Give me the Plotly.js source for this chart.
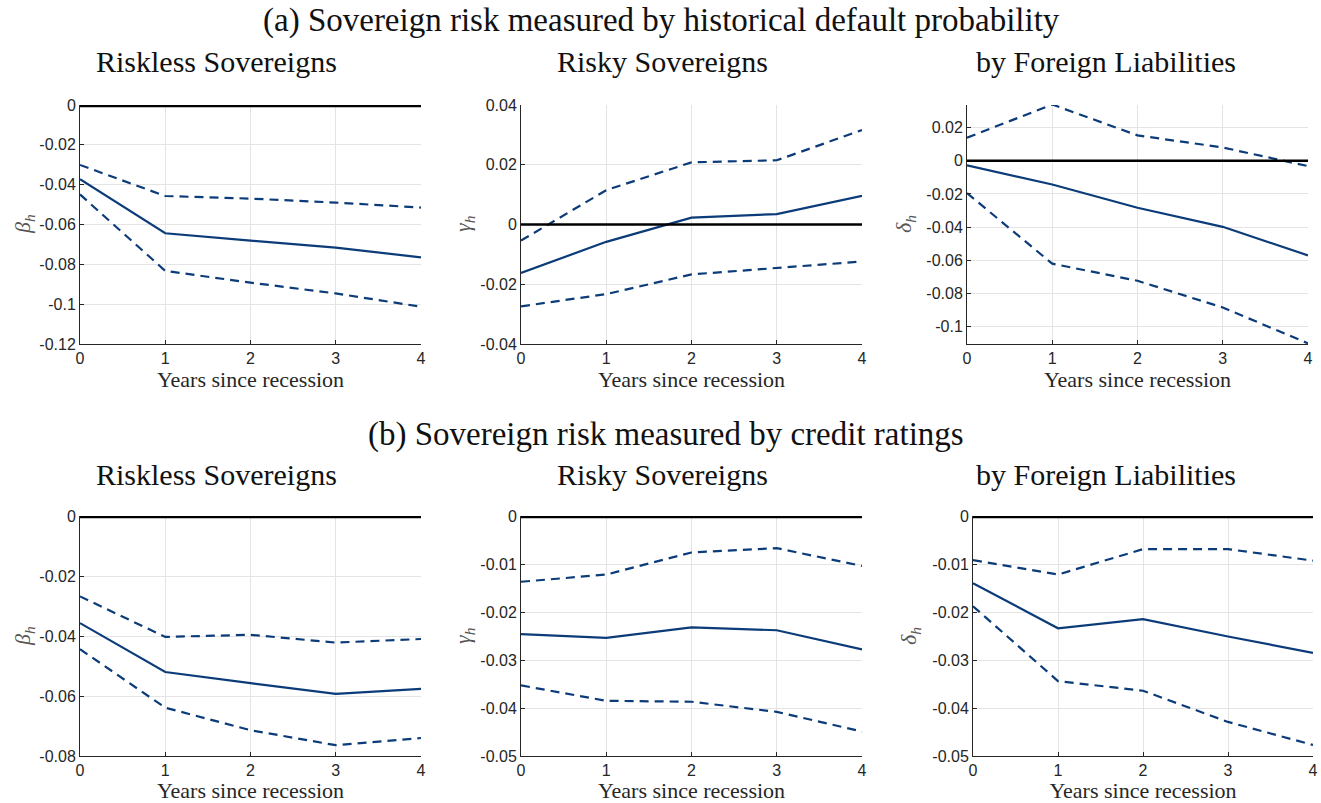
<!DOCTYPE html>
<html>
<head>
<meta charset="utf-8">
<script src="https://cdn.plot.ly/plotly-3.0.1.min.js"></script>
<style>html,body{margin:0;padding:0;background:#fff;}#chart{width:1321px;height:803px;}</style>
</head>
<body>
<div id="chart"></div>
<script>
// ---- data ----
const years = [0, 1, 2, 3, 4];

// (a) historical default probability
const a_beta       = [-0.0373, -0.0644, -0.0681, -0.0716, -0.0765];
const a_beta_hi    = [-0.0301, -0.0457, -0.0470, -0.0490, -0.0515];
const a_beta_lo    = [-0.0449, -0.0833, -0.0892, -0.0946, -0.1013];

const a_gamma      = [-0.0162, -0.0058, 0.0023, 0.0035, 0.0096];
const a_gamma_hi   = [-0.0054, 0.0115, 0.0208, 0.0215, 0.0316];
const a_gamma_lo   = [-0.0274, -0.0233, -0.0167, -0.0146, -0.0124];

const a_delta      = [-0.0028, -0.0143, -0.0283, -0.0398, -0.0570];
const a_delta_hi   = [0.0139, 0.0339, 0.0153, 0.0080, -0.0032];
const a_delta_lo   = [-0.0195, -0.0620, -0.0723, -0.0884, -0.1100];

// (b) credit ratings
const b_beta       = [-0.0357, -0.0520, -0.0557, -0.0593, -0.0576];
const b_beta_hi    = [-0.0268, -0.0403, -0.0396, -0.0422, -0.0410];
const b_beta_lo    = [-0.0444, -0.0639, -0.0714, -0.0764, -0.0740];

const b_gamma      = [-0.0246, -0.0254, -0.0232, -0.0238, -0.0278];
const b_gamma_hi   = [-0.0137, -0.0122, -0.0076, -0.0067, -0.0104];
const b_gamma_lo   = [-0.0353, -0.0385, -0.0387, -0.0408, -0.0449];

const b_delta      = [-0.0140, -0.0234, -0.0215, -0.0251, -0.0285];
const b_delta_hi   = [-0.0092, -0.0122, -0.0069, -0.0069, -0.0093];
const b_delta_lo   = [-0.0188, -0.0344, -0.0364, -0.0429, -0.0477];

// tick labels
const xTicks = [0, 1, 2, 3, 4];
const xTickText = ['0', '1', '2', '3', '4'];
const yt_a1 = [0, -0.02, -0.04, -0.06, -0.08, -0.1, -0.12];
const yt_a1_txt = ['0', '-0.02', '-0.04', '-0.06', '-0.08', '-0.1', '-0.12'];
const yt_a2 = [0.04, 0.02, 0, -0.02, -0.04];
const yt_a2_txt = ['0.04', '0.02', '0', '-0.02', '-0.04'];
const yt_a3 = [0.02, 0, -0.02, -0.04, -0.06, -0.08, -0.1];
const yt_a3_txt = ['0.02', '0', '-0.02', '-0.04', '-0.06', '-0.08', '-0.1'];
const yt_b1 = [0, -0.02, -0.04, -0.06, -0.08];
const yt_b1_txt = ['0', '-0.02', '-0.04', '-0.06', '-0.08'];
const yt_b2 = [0, -0.01, -0.02, -0.03, -0.04, -0.05];
const yt_b2_txt = ['0', '-0.01', '-0.02', '-0.03', '-0.04', '-0.05'];

// titles
const panelTitles = ['Riskless Sovereigns', 'Risky Sovereigns', 'by Foreign Liabilities'];
const mainTitleA = '(a) Sovereign risk measured by historical default probability';
const mainTitleB = '(b) Sovereign risk measured by credit ratings';
const xTitle = 'Years since recession';
const yLabels = ['<i>β<sub>h</sub></i>', '<i>γ<sub>h</sub></i>', '<i>δ<sub>h</sub></i>'];

// ---- styles ----
const W = 1321, H = 803;
const BLUE = '#0b3b78';
const TXT = '#262626';
const SERIF = '"Liberation Serif", "DejaVu Serif", serif';
const SANS = '"Liberation Sans", Arial, sans-serif';

const panels = [
  {c: a_beta, hi: a_beta_hi, lo: a_beta_lo, xd: [80, 421], yd: [105, 344], yr: [-0.12, 0], yt: yt_a1, ytt: yt_a1_txt},
  {c: a_gamma, hi: a_gamma_hi, lo: a_gamma_lo, xd: [521, 862], yd: [105, 344], yr: [-0.04, 0.04], yt: yt_a2, ytt: yt_a2_txt},
  {c: a_delta, hi: a_delta_hi, lo: a_delta_lo, xd: [967, 1308], yd: [105, 344], yr: [-0.1104, 0.0336], yt: yt_a3, ytt: yt_a3_txt},
  {c: b_beta, hi: b_beta_hi, lo: b_beta_lo, xd: [80, 421], yd: [516, 756], yr: [-0.08, 0], yt: yt_b1, ytt: yt_b1_txt},
  {c: b_gamma, hi: b_gamma_hi, lo: b_gamma_lo, xd: [521, 862], yd: [516, 756], yr: [-0.05, 0], yt: yt_b2, ytt: yt_b2_txt},
  {c: b_delta, hi: b_delta_hi, lo: b_delta_lo, xd: [973, 1313], yd: [516, 756], yr: [-0.05, 0], yt: yt_b2, ytt: yt_b2_txt}
];

const traces = [];
const layout = {
  width: W, height: H,
  margin: {l: 0, r: 0, t: 0, b: 0},
  paper_bgcolor: '#ffffff',
  plot_bgcolor: '#ffffff',
  showlegend: false,
  annotations: [],
  shapes: []
};

panels.forEach((p, i) => {
  const n = i + 1;
  const xa = 'x' + (n === 1 ? '' : n);
  const ya = 'y' + (n === 1 ? '' : n);
  const xk = 'xaxis' + (n === 1 ? '' : n);
  const yk = 'yaxis' + (n === 1 ? '' : n);
  traces.push({x: years, y: p.c, xaxis: xa, yaxis: ya, mode: 'lines', line: {color: BLUE, width: 2.2}, hoverinfo: 'skip'});
  traces.push({x: years, y: p.hi, xaxis: xa, yaxis: ya, mode: 'lines', line: {color: BLUE, width: 2.2, dash: '9px,6px'}, hoverinfo: 'skip'});
  traces.push({x: years, y: p.lo, xaxis: xa, yaxis: ya, mode: 'lines', line: {color: BLUE, width: 2.2, dash: '9px,6px'}, hoverinfo: 'skip'});

  layout[xk] = {
    domain: [p.xd[0] / W, p.xd[1] / W], anchor: ya, range: [0, 4],
    tickmode: 'array', tickvals: xTicks, ticktext: xTickText,
    showgrid: true, gridcolor: '#e4e4e4', gridwidth: 1,
    zeroline: false, showline: true, linecolor: TXT, linewidth: 1,
    ticks: 'inside', ticklen: 4, tickcolor: TXT,
    tickfont: {family: SANS, size: 16, color: TXT},
    title: {text: xTitle, font: {family: SERIF, size: 22, color: TXT}, standoff: 3}
  };
  layout[yk] = {
    domain: [1 - p.yd[1] / H, 1 - p.yd[0] / H], anchor: xa, range: p.yr,
    tickmode: 'array', tickvals: p.yt, ticktext: p.ytt,
    showgrid: true, gridcolor: '#e4e4e4', gridwidth: 1,
    zeroline: false, showline: true, linecolor: TXT, linewidth: 1,
    ticks: 'inside', ticklen: 4, tickcolor: TXT,
    tickfont: {family: SANS, size: 16, color: TXT}
  };
  // zero reference line (thicker when it sits on the clipped top edge)
  const atEdge = p.yr[1] === 0;
  layout.shapes.push({type: 'line', xref: xa + ' domain', yref: ya, x0: 0, x1: 1, y0: 0, y1: 0,
    line: {color: '#000000', width: atEdge ? 4.5 : 2.5}, layer: 'above'});
});

// main titles
layout.annotations.push({text: mainTitleA, xref: 'paper', yref: 'paper', x: 661 / W, y: 1 - 21 / H,
  xanchor: 'center', yanchor: 'middle', showarrow: false, font: {family: SERIF, size: 33, color: '#111'}});
layout.annotations.push({text: mainTitleB, xref: 'paper', yref: 'paper', x: 666 / W, y: 1 - 435 / H,
  xanchor: 'center', yanchor: 'middle', showarrow: false, font: {family: SERIF, size: 33, color: '#111'}});

// panel titles
const titleX = [217, 662, 1106];
[62, 474].forEach(ty => {
  panelTitles.forEach((t, j) => {
    layout.annotations.push({text: t, xref: 'paper', yref: 'paper', x: titleX[j] / W, y: 1 - ty / H,
      xanchor: 'center', yanchor: 'middle', showarrow: false, font: {family: SERIF, size: 30, color: '#111'}});
  });
});

// y labels
const yLabX = [[24, 464, 905], [24, 464, 910]];
[[224, 0], [636, 1]].forEach(([cy, r]) => {
  yLabels.forEach((t, j) => {
    layout.annotations.push({text: t, xref: 'paper', yref: 'paper', x: yLabX[r][j] / W, y: 1 - cy / H,
      xanchor: 'center', yanchor: 'middle', textangle: -90, showarrow: false,
      font: {family: SERIF, size: 22, color: '#555'}});
  });
});

Plotly.newPlot('chart', traces, layout, {displayModeBar: false, staticPlot: true});
</script>
</body>
</html>
